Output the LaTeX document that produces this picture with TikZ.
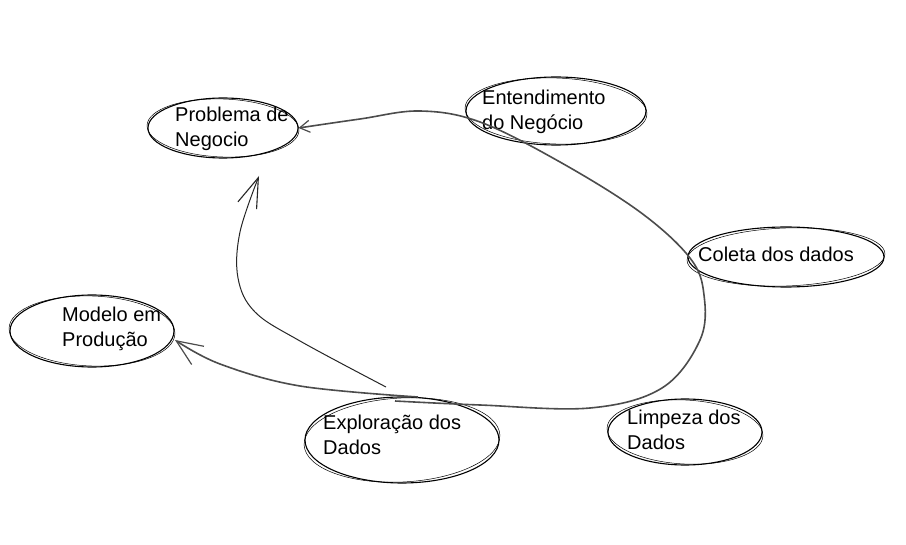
\documentclass[tikz,border=0pt]{standalone}
\usepackage{fontspec}
\setmainfont{Liberation Sans}
\usetikzlibrary{shapes.geometric,arrows.meta}
\tikzset{
  bubble/.style={ellipse, draw=black, line width=1.1pt, inner sep=0pt},
  sketch/.style={draw=black, line width=0.5pt},
  bubbletext/.style={anchor=west, align=left, inner sep=0pt, font=\fontsize{20}{24.5}\selectfont},
  flow/.style={draw=black!70, line width=1.6pt},
  smalltip/.style={-{Straight Barb[length=10pt,width=12pt,line width=1.2pt]}},
  bigtip/.style={-{Straight Barb[length=26pt,width=22pt,line width=1.2pt]}},
  longtip/.style={-{Straight Barb[length=30pt,width=20pt,line width=1.1pt]}},
  thinflow/.style={draw=black!85, line width=1pt}
}
\begin{document}
\begin{tikzpicture}[x=1pt,y=-1pt]
\useasboundingbox[fill=white] (0,0) rectangle (906,545);
% ellipses
\node[bubble, minimum width=150, minimum height=60] (prob) at (223,128) {};
\node[bubble, minimum width=180, minimum height=68] (ent) at (556,111) {};
\node[bubble, minimum width=196, minimum height=60] (col) at (786,257) {};
\node[bubble, minimum width=164, minimum height=72] (mod) at (92,331) {};
\node[bubble, minimum width=194, minimum height=86] (expl) at (402,440) {};
\node[bubble, minimum width=154, minimum height=66] (limp) at (685,432) {};
% second sketch strokes
\draw[sketch] (prob.center) ellipse [x radius=76, y radius=29, rotate=-2];
\draw[sketch] (ent.center) ellipse [x radius=91, y radius=33, rotate=-2];
\draw[sketch] (col.center) ellipse [x radius=99, y radius=29, rotate=2];
\draw[sketch] (mod.center) ellipse [x radius=83, y radius=35, rotate=-2];
\draw[sketch] (expl.center) ellipse [x radius=98, y radius=42, rotate=3];
\draw[sketch] (limp.center) ellipse [x radius=78, y radius=32, rotate=-3];
% texts
\node[bubbletext] (probt) at (175,129) {Problema de\\Negocio};
\node[bubbletext] (entt) at (482,112) {Entendimento\\do Negócio};
\node[bubbletext] (colt) at (698,254) {Coleta dos dados};
\node[bubbletext] (modt) at (62,329) {Modelo em\\Produção};
\node[bubbletext] (explt) at (323,435) {Exploração dos\\Dados};
\node[bubbletext] (limpt) at (627,430) {Limpeza dos\\Dados};
% free ends
\coordinate (loopstart) at (395,401);
\coordinate (upstart) at (386,387);
\coordinate (uptip) at (259,176);
\coordinate (modstart) at (418,397);
\coordinate (modtip) at (175,340);
% connectors
\draw[flow, smalltip] plot[smooth, tension=0.6] coordinates {(loopstart) (480,405) (590,408) (662,388) (700,340) (704,295) (690,258) (640,212) (560,162) (480,122) (420,111) (360,119) (prob.east)};
\draw[thinflow, longtip] plot[smooth, tension=0.6] coordinates {(upstart) (300,341) (255,312) (238,278) (240,232) (uptip)};
\draw[flow, bigtip] plot[smooth, tension=0.6] coordinates {(modstart) (300,386) (220,364) (modtip)};
\end{tikzpicture}
\end{document}
